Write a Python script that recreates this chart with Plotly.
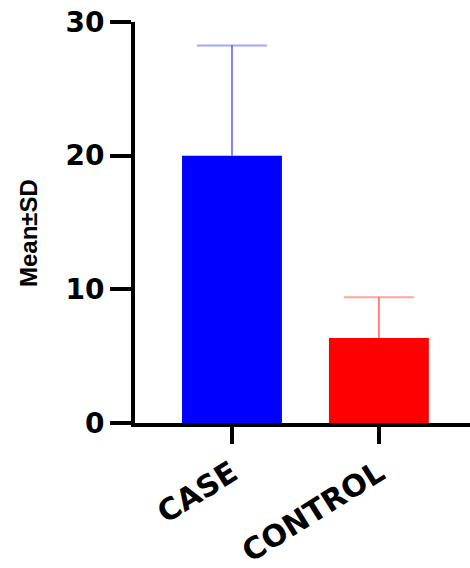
import plotly.graph_objects as go

categories = ["CASE", "CONTROL"]
means = [20.0, 6.35]
sds = [8.25, 3.05]
bar_colors = ["#0000FF", "#FF0000"]
err_colors = ["rgba(0,0,255,0.5)", "rgba(255,0,0,0.5)"]
y_ticks = [0, 10, 20, 30]

fig = go.Figure()
for cat, m, s, bc in zip(categories, means, sds, bar_colors):
    fig.add_trace(go.Bar(
        x=[cat], y=[m], width=0.68,
        marker=dict(color=bc, line=dict(width=0)),
        showlegend=False, hoverinfo="skip",
    ))

# upper-only error bars: stem + cap (cap drawn as a horizontal line marker)
for cat, m, s, ec in zip(categories, means, sds, err_colors):
    fig.add_trace(go.Scatter(
        x=[cat, cat], y=[m, m + s], mode="lines+markers",
        line=dict(color=ec, width=2),
        marker=dict(symbol="line-ew", size=[0, 50], line=dict(color=ec, width=2)),
        showlegend=False, hoverinfo="skip",
    ))

fig.update_layout(
    width=470, height=568,
    margin=dict(l=135, r=0, t=22, b=145, autoexpand=False),
    plot_bgcolor="white", paper_bgcolor="white",
    xaxis=dict(
        type="category", range=[-0.66, 1.62], showline=True, linecolor="black", linewidth=4,
        ticks="outside", ticklen=17, tickwidth=4, tickcolor="black",
        tickangle=-32, showgrid=False, zeroline=False,
        tickfont=dict(family="DejaVu Sans", size=30, color="black", weight="bold"),
    ),
    yaxis=dict(
        range=[0, 30], tickvals=y_ticks, showline=True, linecolor="black", linewidth=4,
        ticks="outside", ticklen=21, tickwidth=4, tickcolor="black",
        showgrid=False, zeroline=False,
        tickfont=dict(family="DejaVu Sans", size=28, color="black", weight="bold"),
    ),
    annotations=[dict(
        text="Mean±SD", textangle=-90, x=-0.318, y=0.475, xref="paper", yref="paper",
        showarrow=False, xanchor="center", yanchor="middle",
        font=dict(family="Liberation Sans", size=24, color="black", weight="bold"),
    )],
)

fig.write_html("out.html")
